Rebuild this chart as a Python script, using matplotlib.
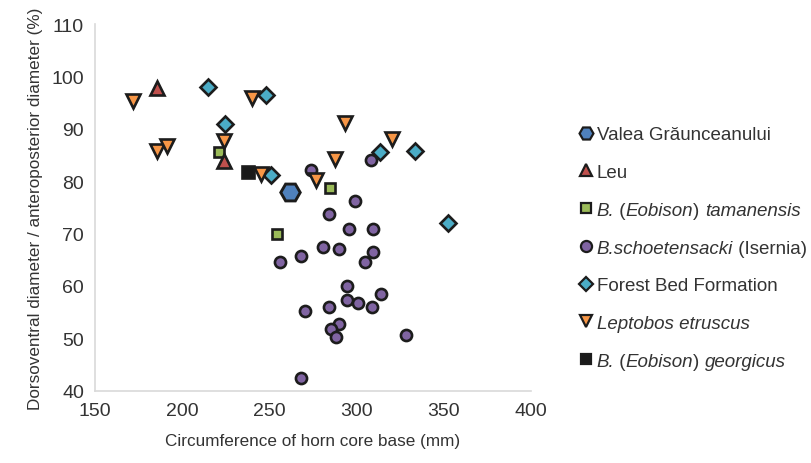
import matplotlib
matplotlib.use("Agg")
import matplotlib.pyplot as plt

plt.rcParams['font.family'] = ['Liberation Sans', 'DejaVu Sans']

# values (circumference mm, DV/AP %)
valea_x = [262]
valea_y = [78]

leu_x = [185.5, 224]
leu_y = [97.8, 83.8]

tamanensis_x = [221, 285, 254.5]
tamanensis_y = [85.6, 78.6, 69.9]

isernia_x = [274, 308, 299, 284, 295.5, 309.5, 280.5, 290, 268, 256, 309.5, 305,
             294.5, 314, 294.5, 300.5, 309, 284, 270.5, 290, 285.5, 288, 328.5, 268]
isernia_y = [82.2, 84.0, 76.3, 73.7, 70.9, 70.9, 67.5, 67.1, 65.7, 64.6, 66.5, 64.6,
             60.0, 58.4, 57.3, 56.8, 55.9, 55.9, 55.2, 52.7, 51.7, 50.3, 50.6, 42.5]

forest_x = [214.5, 248, 224.5, 251, 313.5, 333.5, 352.5]
forest_y = [98.0, 96.5, 91.0, 81.1, 85.5, 85.7, 72.1]

leptobos_x = [171.5, 240, 224, 185.5, 191, 245, 276.5, 293.5, 287.5, 320.5]
leptobos_y = [95.3, 95.9, 87.6, 85.7, 86.8, 81.3, 80.3, 91.2, 84.2, 88.1]

georgicus_x = [237.5]
georgicus_y = [81.7]

# legend labels split into (text, italic?) pieces
legend_parts = [
    [('Valea Grăunceanului', False)],
    [('Leu', False)],
    [('B.', True), (' (', False), ('Eobison', True), (') ', False), ('tamanensis', True)],
    [('B.schoetensacki', True), (' (Isernia)', False)],
    [('Forest Bed Formation', False)],
    [('Leptobos etruscus', True)],
    [('B.', True), (' (', False), ('Eobison', True), (') ', False), ('georgicus', True)],
]

edge = '#1c1c1c'
txt = '#333333'

fig = plt.figure(figsize=(8.12, 4.64), dpi=100)
ax = fig.add_axes([0.117, 0.156, 0.537, 0.79])

ax.plot(isernia_x, isernia_y, 'o', ms=8, mfc='#8064a2', mec=edge, mew=1.9, ls='none', zorder=3)
ax.plot(tamanensis_x, tamanensis_y, 's', ms=7.2, mfc='#9bbb59', mec=edge, mew=1.9, ls='none', zorder=3)
ax.plot(georgicus_x, georgicus_y, 's', ms=8, mfc='#1a1a1a', mec=edge, mew=1.9, ls='none', zorder=3)
ax.plot(leu_x, leu_y, '^', ms=10, mfc='#c0504d', mec=edge, mew=1.9, ls='none', zorder=4)
ax.plot(forest_x, forest_y, 'D', ms=8, mfc='#4bacc6', mec=edge, mew=1.9, ls='none', zorder=4)
ax.plot(leptobos_x, leptobos_y, 'v', ms=10, mfc='#f79646', mec=edge, mew=1.9, ls='none', zorder=4)
ax.plot(valea_x, valea_y, 'H', ms=14, mfc='#4f81bd', mec=edge, mew=2.1, ls='none', zorder=5)

ax.set_xlim(150, 400)
ax.set_ylim(40, 110)
ax.set_xticks(range(150, 401, 50))
ax.set_yticks(range(40, 111, 10))
ax.tick_params(length=0, labelsize=14, colors=txt, pad=8)
for s in ['top', 'right']:
    ax.spines[s].set_visible(False)
for s in ['left', 'bottom']:
    ax.spines[s].set_color('#d9d9d9')
    ax.spines[s].set_linewidth(1.2)

ax.set_xlabel('Circumference of horn core base (mm)', fontsize=12.3, color=txt, labelpad=10)
ax.set_ylabel('Dorsoventral diameter / anteroposterior diameter (%)', fontsize=12.3, color=txt, labelpad=6)

# legend: markers + first text piece, the rest chained on with annotate
handles = [
    plt.Line2D([], [], marker='H', ms=10, mfc='#4f81bd', mec=edge, mew=1.6, ls='none'),
    plt.Line2D([], [], marker='^', ms=9, mfc='#c0504d', mec=edge, mew=1.6, ls='none'),
    plt.Line2D([], [], marker='s', ms=7, mfc='#9bbb59', mec=edge, mew=1.6, ls='none'),
    plt.Line2D([], [], marker='o', ms=8, mfc='#8064a2', mec=edge, mew=1.6, ls='none'),
    plt.Line2D([], [], marker='D', ms=7, mfc='#4bacc6', mec=edge, mew=1.6, ls='none'),
    plt.Line2D([], [], marker='v', ms=9, mfc='#f79646', mec=edge, mew=1.6, ls='none'),
    plt.Line2D([], [], marker='s', ms=7, mfc='#1a1a1a', mec=edge, mew=1.6, ls='none'),
]
first_labels = [parts[0][0] for parts in legend_parts]
leg = fig.legend(handles, first_labels, loc='upper left', bbox_to_anchor=(0.715, 0.726),
                 frameon=False, fontsize=13.5, labelspacing=1.1, handlelength=0.6,
                 handletextpad=0.25, borderaxespad=0, borderpad=0)
for t, parts in zip(leg.get_texts(), legend_parts):
    t.set_color(txt)
    if parts[0][1]:
        t.set_fontstyle('italic')

fig.canvas.draw()  # position legend texts before chaining onto them

for t, parts in zip(leg.get_texts(), legend_parts):
    prev = t
    for piece, italic in parts[1:]:
        prev = ax.annotate(piece, xy=(1, 0), xycoords=prev, va='bottom', ha='left',
                           fontsize=13.5, color=txt,
                           fontstyle='italic' if italic else 'normal')

fig.savefig('out.png', dpi=100)
